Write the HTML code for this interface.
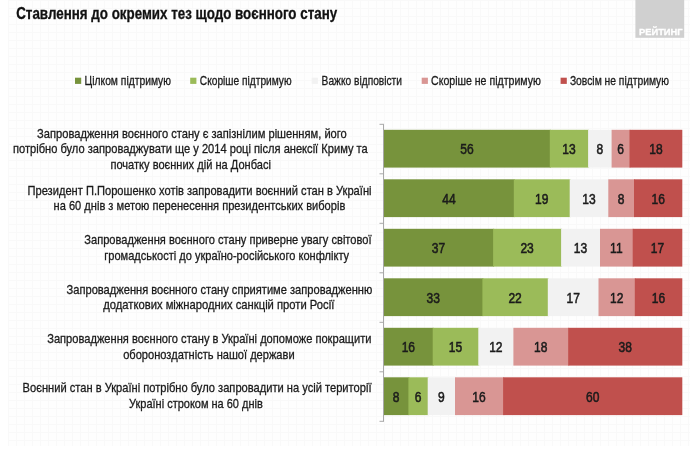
<!DOCTYPE html>
<html lang="uk"><head><meta charset="utf-8"><title>Ставлення до окремих тез щодо воєнного стану</title>
<style>html,body{margin:0;padding:0;background:#fff}body{width:690px;height:452px;overflow:hidden}svg{display:block}text{font-family:"Liberation Sans",sans-serif}.l{stroke:#1a1a1a;stroke-width:.3px}.n{stroke:#1a1a1a;stroke-width:.55px}</style></head><body>
<svg width="690" height="452" viewBox="0 0 690 452">
<defs><pattern id="g" width="8" height="8" patternUnits="userSpaceOnUse"><path d="M0 .5H8M.5 0V8" stroke="#f9f9f9" stroke-width="1" fill="none"/></pattern></defs>
<rect width="690" height="452" fill="#ffffff"/><rect x="8" width="682" height="446" fill="#fefefe"/><rect x="8" width="682" height="446" fill="url(#g)"/>
<text x="16.2" y="18.7" font-size="16.2" font-weight="bold" fill="#111111" stroke="#111111" stroke-width=".3" textLength="321" lengthAdjust="spacingAndGlyphs">Ставлення до окремих тез щодо воєнного стану</text>
<rect x="635.4" y="0" width="48.8" height="37.8" fill="#d0d0d0"/>
<text x="639" y="35.3" font-size="9.6" font-weight="bold" fill="#fff" stroke="#fff" stroke-width=".3" textLength="43.6" lengthAdjust="spacingAndGlyphs">РЕЙТИНГ</text>
<rect x="75.0" y="77.7" width="6.2" height="6.2" fill="#77933c"/>
<text class="l" x="84.6" y="84.6" font-size="12.5" fill="#1a1a1a" textLength="86.4" lengthAdjust="spacingAndGlyphs">Цілком підтримую</text>
<rect x="190.2" y="77.7" width="6.2" height="6.2" fill="#9bbb59"/>
<text class="l" x="199.8" y="84.6" font-size="12.5" fill="#1a1a1a" textLength="91.8" lengthAdjust="spacingAndGlyphs">Скоріше підтримую</text>
<rect x="311.7" y="77.7" width="6.2" height="6.2" fill="#f2f2f2"/>
<text class="l" x="321.6" y="84.6" font-size="12.5" fill="#1a1a1a" textLength="80.4" lengthAdjust="spacingAndGlyphs">Важко відповісти</text>
<rect x="421.7" y="77.7" width="6.2" height="6.2" fill="#d99694"/>
<text class="l" x="431.0" y="84.6" font-size="12.5" fill="#1a1a1a" textLength="109.9" lengthAdjust="spacingAndGlyphs">Скоріше  не підтримую</text>
<rect x="560.6" y="77.7" width="6.2" height="6.2" fill="#c0504d"/>
<text class="l" x="569.9" y="84.6" font-size="12.5" fill="#1a1a1a" textLength="99.1" lengthAdjust="spacingAndGlyphs">Зовсім не підтримую</text>
<text class="l" x="37.1" y="138.0" font-size="13" fill="#1a1a1a" textLength="309.7" lengthAdjust="spacingAndGlyphs">Запровадження воєнного стану є запізнілим рішенням, його</text>
<text class="l" x="13.0" y="153.2" font-size="13" fill="#1a1a1a" textLength="354.7" lengthAdjust="spacingAndGlyphs">потрібно було запроваджувати ще у 2014 році після анексії Криму та</text>
<text class="l" x="110.4" y="168.5" font-size="13" fill="#1a1a1a" textLength="160.5" lengthAdjust="spacingAndGlyphs">початку воєнних дій на Донбасі</text>
<text class="l" x="27.5" y="194.7" font-size="13" fill="#1a1a1a" textLength="344.0" lengthAdjust="spacingAndGlyphs">Президент П.Порошенко хотів запровадити воєнний стан в Україні</text>
<text class="l" x="53.6" y="209.8" font-size="13" fill="#1a1a1a" textLength="291.7" lengthAdjust="spacingAndGlyphs">на 60 днів з метою перенесення президентських виборів</text>
<text class="l" x="84.3" y="244.4" font-size="13" fill="#1a1a1a" textLength="287.2" lengthAdjust="spacingAndGlyphs">Запровадження воєнного стану приверне увагу світової</text>
<text class="l" x="104.3" y="259.5" font-size="13" fill="#1a1a1a" textLength="244.8" lengthAdjust="spacingAndGlyphs">громадськості до україно-російського конфлікту</text>
<text class="l" x="66.6" y="294.4" font-size="13" fill="#1a1a1a" textLength="305.7" lengthAdjust="spacingAndGlyphs">Запровадження воєнного стану сприятиме запровадженню</text>
<text class="l" x="103.2" y="309.3" font-size="13" fill="#1a1a1a" textLength="231.1" lengthAdjust="spacingAndGlyphs">додаткових міжнародних санкцій проти Росії</text>
<text class="l" x="47.2" y="343.2" font-size="13" fill="#1a1a1a" textLength="324.3" lengthAdjust="spacingAndGlyphs">Запровадження воєнного стану в Україні допоможе покращити</text>
<text class="l" x="123.2" y="358.5" font-size="13" fill="#1a1a1a" textLength="171.4" lengthAdjust="spacingAndGlyphs">обороноздатність нашої держави</text>
<text class="l" x="22.6" y="392.3" font-size="13" fill="#1a1a1a" textLength="348.9" lengthAdjust="spacingAndGlyphs">Воєнний стан в Україні потрібно було запровадити на усій території</text>
<text class="l" x="129.0" y="407.7" font-size="13" fill="#1a1a1a" textLength="133.8" lengthAdjust="spacingAndGlyphs">Україні строком на 60 днів</text>
<path d="M383.5 124.3V421.3M379.5 124.3H384M379.5 173.8H384M379.5 223.3H384M379.5 272.8H384M379.5 322.3H384M379.5 371.8H384M379.5 421.3H384" stroke="#a8a8a8" stroke-width="1" fill="none"/>
<rect x="384.00" y="129.80" width="166.80" height="37.8" fill="#77933c"/>
<rect x="549.80" y="129.80" width="39.30" height="37.8" fill="#9bbb59"/>
<rect x="588.10" y="129.80" width="24.50" height="37.8" fill="#f2f2f2"/>
<rect x="611.60" y="129.80" width="18.90" height="37.8" fill="#d99694"/>
<rect x="629.50" y="129.80" width="52.80" height="37.8" fill="#c0504d"/>
<text class="n" transform="translate(466.90,154.10) scale(0.83,1)" text-anchor="middle" font-size="14.5" fill="#1c1c1c">56</text>
<text class="n" transform="translate(568.95,154.10) scale(0.83,1)" text-anchor="middle" font-size="14.5" fill="#1c1c1c">13</text>
<text class="n" transform="translate(599.85,154.10) scale(0.83,1)" text-anchor="middle" font-size="14.5" fill="#1c1c1c">8</text>
<text class="n" transform="translate(620.55,154.10) scale(0.83,1)" text-anchor="middle" font-size="14.5" fill="#1c1c1c">6</text>
<text class="n" transform="translate(655.90,154.10) scale(0.83,1)" text-anchor="middle" font-size="14.5" fill="#1c1c1c">18</text>
<rect x="384.00" y="179.30" width="130.80" height="37.8" fill="#77933c"/>
<rect x="513.80" y="179.30" width="56.90" height="37.8" fill="#9bbb59"/>
<rect x="569.70" y="179.30" width="39.60" height="37.8" fill="#f2f2f2"/>
<rect x="608.30" y="179.30" width="26.70" height="37.8" fill="#d99694"/>
<rect x="634.00" y="179.30" width="48.30" height="37.8" fill="#c0504d"/>
<text class="n" transform="translate(448.90,203.60) scale(0.83,1)" text-anchor="middle" font-size="14.5" fill="#1c1c1c">44</text>
<text class="n" transform="translate(541.75,203.60) scale(0.83,1)" text-anchor="middle" font-size="14.5" fill="#1c1c1c">19</text>
<text class="n" transform="translate(589.00,203.60) scale(0.83,1)" text-anchor="middle" font-size="14.5" fill="#1c1c1c">13</text>
<text class="n" transform="translate(621.15,203.60) scale(0.83,1)" text-anchor="middle" font-size="14.5" fill="#1c1c1c">8</text>
<text class="n" transform="translate(658.15,203.60) scale(0.83,1)" text-anchor="middle" font-size="14.5" fill="#1c1c1c">16</text>
<rect x="384.00" y="228.80" width="110.10" height="37.8" fill="#77933c"/>
<rect x="493.10" y="228.80" width="69.00" height="37.8" fill="#9bbb59"/>
<rect x="561.10" y="228.80" width="39.90" height="37.8" fill="#f2f2f2"/>
<rect x="600.00" y="228.80" width="33.70" height="37.8" fill="#d99694"/>
<rect x="632.70" y="228.80" width="49.60" height="37.8" fill="#c0504d"/>
<text class="n" transform="translate(438.55,253.10) scale(0.83,1)" text-anchor="middle" font-size="14.5" fill="#1c1c1c">37</text>
<text class="n" transform="translate(527.10,253.10) scale(0.83,1)" text-anchor="middle" font-size="14.5" fill="#1c1c1c">23</text>
<text class="n" transform="translate(580.55,253.10) scale(0.83,1)" text-anchor="middle" font-size="14.5" fill="#1c1c1c">13</text>
<text class="n" transform="translate(616.35,253.10) scale(0.83,1)" text-anchor="middle" font-size="14.5" fill="#1c1c1c">11</text>
<text class="n" transform="translate(657.50,253.10) scale(0.83,1)" text-anchor="middle" font-size="14.5" fill="#1c1c1c">17</text>
<rect x="384.00" y="278.30" width="99.40" height="37.8" fill="#77933c"/>
<rect x="482.40" y="278.30" width="66.40" height="37.8" fill="#9bbb59"/>
<rect x="547.80" y="278.30" width="51.70" height="37.8" fill="#f2f2f2"/>
<rect x="598.50" y="278.30" width="37.30" height="37.8" fill="#d99694"/>
<rect x="634.80" y="278.30" width="47.50" height="37.8" fill="#c0504d"/>
<text class="n" transform="translate(433.20,302.60) scale(0.83,1)" text-anchor="middle" font-size="14.5" fill="#1c1c1c">33</text>
<text class="n" transform="translate(515.10,302.60) scale(0.83,1)" text-anchor="middle" font-size="14.5" fill="#1c1c1c">22</text>
<text class="n" transform="translate(573.15,302.60) scale(0.83,1)" text-anchor="middle" font-size="14.5" fill="#1c1c1c">17</text>
<text class="n" transform="translate(616.65,302.60) scale(0.83,1)" text-anchor="middle" font-size="14.5" fill="#1c1c1c">12</text>
<text class="n" transform="translate(658.55,302.60) scale(0.83,1)" text-anchor="middle" font-size="14.5" fill="#1c1c1c">16</text>
<rect x="384.00" y="327.80" width="49.70" height="37.8" fill="#77933c"/>
<rect x="432.70" y="327.80" width="46.60" height="37.8" fill="#9bbb59"/>
<rect x="478.30" y="327.80" width="36.10" height="37.8" fill="#f2f2f2"/>
<rect x="513.40" y="327.80" width="55.80" height="37.8" fill="#d99694"/>
<rect x="568.20" y="327.80" width="114.10" height="37.8" fill="#c0504d"/>
<text class="n" transform="translate(408.35,352.10) scale(0.83,1)" text-anchor="middle" font-size="14.5" fill="#1c1c1c">16</text>
<text class="n" transform="translate(455.50,352.10) scale(0.83,1)" text-anchor="middle" font-size="14.5" fill="#1c1c1c">15</text>
<text class="n" transform="translate(495.85,352.10) scale(0.83,1)" text-anchor="middle" font-size="14.5" fill="#1c1c1c">12</text>
<text class="n" transform="translate(540.80,352.10) scale(0.83,1)" text-anchor="middle" font-size="14.5" fill="#1c1c1c">18</text>
<text class="n" transform="translate(625.25,352.10) scale(0.83,1)" text-anchor="middle" font-size="14.5" fill="#1c1c1c">38</text>
<rect x="384.00" y="377.30" width="25.40" height="37.8" fill="#77933c"/>
<rect x="408.40" y="377.30" width="20.30" height="37.8" fill="#9bbb59"/>
<rect x="427.70" y="377.30" width="28.30" height="37.8" fill="#f2f2f2"/>
<rect x="455.00" y="377.30" width="49.10" height="37.8" fill="#d99694"/>
<rect x="503.10" y="377.30" width="179.20" height="37.8" fill="#c0504d"/>
<text class="n" transform="translate(396.20,401.60) scale(0.83,1)" text-anchor="middle" font-size="14.5" fill="#1c1c1c">8</text>
<text class="n" transform="translate(418.05,401.60) scale(0.83,1)" text-anchor="middle" font-size="14.5" fill="#1c1c1c">6</text>
<text class="n" transform="translate(441.35,401.60) scale(0.83,1)" text-anchor="middle" font-size="14.5" fill="#1c1c1c">9</text>
<text class="n" transform="translate(479.05,401.60) scale(0.83,1)" text-anchor="middle" font-size="14.5" fill="#1c1c1c">16</text>
<text class="n" transform="translate(592.70,401.60) scale(0.83,1)" text-anchor="middle" font-size="14.5" fill="#1c1c1c">60</text>
</svg></body></html>
